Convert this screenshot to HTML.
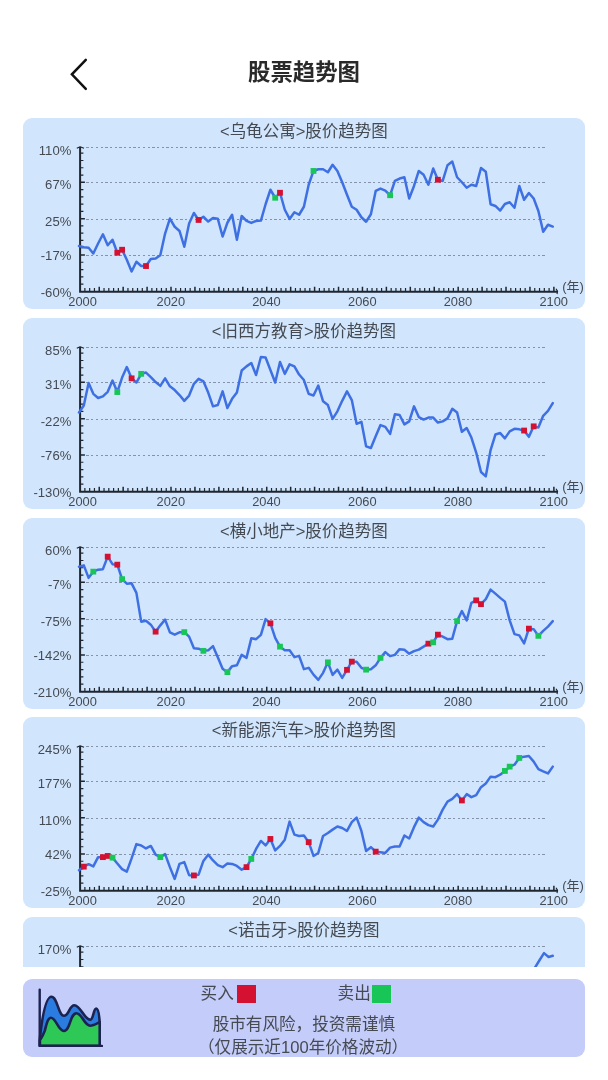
<!DOCTYPE html>
<html lang="zh-CN"><head><meta charset="utf-8"><title>股票趋势图</title>
<style>
html,body{margin:0;padding:0;background:#fff;}
body{width:608px;height:1080px;position:relative;overflow:hidden;font-family:"Liberation Sans","Noto Sans CJK SC",sans-serif;}
.back{position:absolute;left:60px;top:50px;width:40px;height:48px;}
.title{position:absolute;left:0;top:56.2px;width:608px;text-align:center;font-size:22.4px;font-weight:bold;color:#2a2a2a;line-height:34px;}
.scroll{position:absolute;left:0;top:110px;width:608px;height:857.3px;overflow:hidden;}
.card{position:absolute;left:22.6px;width:562.6px;height:191.1px;background:#d1e6fc;border-radius:9px;}
.card h2{margin:0;position:absolute;left:0;top:3px;width:562.6px;text-align:center;font-size:16.5px;font-weight:normal;color:#454a52;line-height:20px;}
.card svg{position:absolute;left:0;top:0;}
.card svg text{font-family:"Liberation Sans","Noto Sans CJK SC",sans-serif;font-size:12.85px;fill:#454a52;}
.card svg text.nian{font-size:13px;}
.card svg text.yl{font-size:13.1px;}
.panel{position:absolute;left:22.6px;top:978.7px;width:562.6px;height:78.1px;background:#c4ccf9;border-radius:9px;}
.panel svg{position:absolute;left:0;top:0;}
.lg{position:absolute;top:4px;font-size:16.6px;color:#454a52;line-height:22px;white-space:nowrap;}
.sq{position:absolute;top:6px;width:19px;height:18px;}
.tip{position:absolute;left:0;width:562.6px;text-align:center;font-size:16.6px;color:#454a52;line-height:22px;white-space:nowrap;}
</style></head><body>
<svg class="back" viewBox="0 0 40 48"><path d="M25.8 9.9 L11.9 24.3 L25.8 38.9" fill="none" stroke="#111" stroke-width="2.5" stroke-linecap="round" stroke-linejoin="miter"/></svg>
<div class="title">股票趋势图</div>
<div class="scroll">
<div class="card" style="top:8.2px"><h2>&lt;乌龟公寓&gt;股价趋势图</h2>
<svg width="562.6" height="191.1" viewBox="22.6 118.25 562.6 191.1">
<line x1="86" y1="147.5" x2="546.5" y2="147.5" stroke="#8593aa" stroke-width="1" stroke-dasharray="2.3 2.4" shape-rendering="crispEdges"/>
<line x1="86" y1="182.4" x2="546.5" y2="182.4" stroke="#8593aa" stroke-width="1" stroke-dasharray="2.3 2.4" shape-rendering="crispEdges"/>
<line x1="86" y1="219.9" x2="546.5" y2="219.9" stroke="#8593aa" stroke-width="1" stroke-dasharray="2.3 2.4" shape-rendering="crispEdges"/>
<line x1="86" y1="255.6" x2="546.5" y2="255.6" stroke="#8593aa" stroke-width="1" stroke-dasharray="2.3 2.4" shape-rendering="crispEdges"/>
<path d="M79.7 147.2 V292.0 H557.3" fill="none" stroke="#1f2630" stroke-width="2"/>
<path d="M76.4 148.6 L79.7 147.1 L83.6 148.6 M555.6 289.0 L557.2 291.6 L556.6 294.3" fill="none" stroke="#1f2630" stroke-width="1.1" stroke-linejoin="round"/>
<path d="M79.7 284.33 h3.3 M79.7 277.06 h3.3 M79.7 269.79 h3.3 M79.7 262.52 h3.3 M79.7 247.98 h3.3 M79.7 240.71 h3.3 M79.7 233.44 h3.3 M79.7 226.17 h3.3 M79.7 211.63 h3.3 M79.7 204.36 h3.3 M79.7 197.09 h3.3 M79.7 189.82 h3.3 M79.7 175.28 h3.3 M79.7 168.01 h3.3 M79.7 160.74 h3.3 M79.7 153.47 h3.3 M84.47 292.0 v-3.7 M89.26 292.0 v-3.7 M94.04 292.0 v-3.7 M103.62 292.0 v-3.7 M108.40 292.0 v-3.7 M113.19 292.0 v-3.7 M117.97 292.0 v-3.7 M127.55 292.0 v-3.7 M132.33 292.0 v-3.7 M137.12 292.0 v-3.7 M141.90 292.0 v-3.7 M151.48 292.0 v-3.7 M156.26 292.0 v-3.7 M161.05 292.0 v-3.7 M165.83 292.0 v-3.7 M175.41 292.0 v-3.7 M180.19 292.0 v-3.7 M184.98 292.0 v-3.7 M189.76 292.0 v-3.7 M199.34 292.0 v-3.7 M204.12 292.0 v-3.7 M208.91 292.0 v-3.7 M213.69 292.0 v-3.7 M223.27 292.0 v-3.7 M228.05 292.0 v-3.7 M232.84 292.0 v-3.7 M237.62 292.0 v-3.7 M247.20 292.0 v-3.7 M251.98 292.0 v-3.7 M256.77 292.0 v-3.7 M261.55 292.0 v-3.7 M271.13 292.0 v-3.7 M275.91 292.0 v-3.7 M280.70 292.0 v-3.7 M285.48 292.0 v-3.7 M295.06 292.0 v-3.7 M299.84 292.0 v-3.7 M304.63 292.0 v-3.7 M309.41 292.0 v-3.7 M318.99 292.0 v-3.7 M323.77 292.0 v-3.7 M328.56 292.0 v-3.7 M333.34 292.0 v-3.7 M342.92 292.0 v-3.7 M347.70 292.0 v-3.7 M352.49 292.0 v-3.7 M357.27 292.0 v-3.7 M366.85 292.0 v-3.7 M371.63 292.0 v-3.7 M376.42 292.0 v-3.7 M381.20 292.0 v-3.7 M390.78 292.0 v-3.7 M395.56 292.0 v-3.7 M400.35 292.0 v-3.7 M405.13 292.0 v-3.7 M414.71 292.0 v-3.7 M419.49 292.0 v-3.7 M424.28 292.0 v-3.7 M429.06 292.0 v-3.7 M438.64 292.0 v-3.7 M443.42 292.0 v-3.7 M448.21 292.0 v-3.7 M452.99 292.0 v-3.7 M462.57 292.0 v-3.7 M467.35 292.0 v-3.7 M472.14 292.0 v-3.7 M476.92 292.0 v-3.7 M486.50 292.0 v-3.7 M491.28 292.0 v-3.7 M496.07 292.0 v-3.7 M500.85 292.0 v-3.7 M510.43 292.0 v-3.7 M515.21 292.0 v-3.7 M520.00 292.0 v-3.7 M524.78 292.0 v-3.7 M534.36 292.0 v-3.7 M539.14 292.0 v-3.7 M543.93 292.0 v-3.7 M548.71 292.0 v-3.7" fill="none" stroke="#1f2630" stroke-width="1.2"/>
<path d="M79.7 255.25 h4.8 M79.7 218.90 h4.8 M79.7 182.55 h4.8 M98.83 292.0 v-5.0 M122.76 292.0 v-5.0 M146.69 292.0 v-5.0 M170.62 292.0 v-5.0 M194.55 292.0 v-5.0 M218.48 292.0 v-5.0 M242.41 292.0 v-5.0 M266.34 292.0 v-5.0 M290.27 292.0 v-5.0 M314.20 292.0 v-5.0 M338.13 292.0 v-5.0 M362.06 292.0 v-5.0 M385.99 292.0 v-5.0 M409.92 292.0 v-5.0 M433.85 292.0 v-5.0 M457.78 292.0 v-5.0 M481.71 292.0 v-5.0 M505.64 292.0 v-5.0 M529.57 292.0 v-5.0 M553.50 292.0 v-5.0" fill="none" stroke="#1f2630" stroke-width="1.5"/>
<text class="yl" x="70.9" y="155.0" text-anchor="end">110%</text>
<text class="yl" x="70.9" y="188.8" text-anchor="end">67%</text>
<text class="yl" x="70.9" y="225.9" text-anchor="end">25%</text>
<text class="yl" x="70.9" y="260.0" text-anchor="end">-17%</text>
<text class="yl" x="70.9" y="297.1" text-anchor="end">-60%</text>
<text x="82.2" y="305.9" text-anchor="middle">2000</text>
<text x="170.4" y="305.9" text-anchor="middle">2020</text>
<text x="266.1" y="305.9" text-anchor="middle">2040</text>
<text x="361.9" y="305.9" text-anchor="middle">2060</text>
<text x="457.6" y="305.9" text-anchor="middle">2080</text>
<text x="553.3" y="305.9" text-anchor="middle">2100</text>
<text x="572.7" y="291.3" text-anchor="middle" class="nian">(年)</text>
<polyline points="78.6,246.2 83.4,247.5 88.2,248.0 92.9,253.8 97.7,243.8 102.5,234.5 107.3,245.5 112.1,240.0 116.9,253.0 121.7,250.0 126.4,260.0 131.2,271.8 136.0,262.0 140.8,266.2 145.6,266.2 150.4,259.2 155.2,258.8 159.9,255.5 164.7,233.8 169.5,218.8 174.3,227.0 179.1,231.2 183.9,247.0 188.7,223.8 193.5,213.2 198.2,220.2 203.0,217.0 207.8,221.8 212.6,218.2 217.4,219.0 222.2,236.8 227.0,223.0 231.7,215.0 236.5,240.0 241.3,216.2 246.1,221.2 250.9,223.2 255.7,221.2 260.5,220.8 265.2,204.5 270.0,190.0 274.8,198.0 279.6,193.0 284.4,210.0 289.2,219.2 294.0,212.5 298.7,215.0 303.5,207.0 308.3,185.0 313.1,171.2 317.9,169.5 322.7,169.5 327.5,172.5 332.2,165.0 337.0,171.2 341.8,182.5 346.6,195.0 351.4,207.0 356.2,210.0 361.0,217.5 365.7,222.0 370.5,214.5 375.3,191.2 380.1,188.8 384.9,190.8 389.7,195.5 394.5,181.2 399.2,178.8 404.0,177.5 408.8,198.8 413.6,186.2 418.4,171.2 423.2,175.0 428.0,185.0 432.8,168.8 437.5,180.0 442.3,181.2 447.1,165.5 451.9,161.8 456.7,177.5 461.5,182.5 466.3,188.0 471.0,185.0 475.8,186.2 480.6,168.2 485.4,172.0 490.2,204.5 495.0,206.2 499.8,210.8 504.5,204.2 509.3,202.5 514.1,208.0 518.9,186.2 523.7,200.0 528.5,193.2 533.3,198.8 538.0,211.2 542.8,232.0 547.6,225.0 552.4,226.8" fill="none" stroke="#3f70e3" stroke-width="2.5" stroke-linejoin="round" stroke-linecap="round"/>
<rect x="114.0" y="250.1" width="5.8" height="5.8" fill="#d41131"/>
<rect x="118.8" y="247.1" width="5.8" height="5.8" fill="#d41131"/>
<rect x="142.7" y="263.4" width="5.8" height="5.8" fill="#d41131"/>
<rect x="195.3" y="217.3" width="5.8" height="5.8" fill="#d41131"/>
<rect x="271.9" y="195.1" width="5.8" height="5.8" fill="#18c658"/>
<rect x="276.7" y="190.1" width="5.8" height="5.8" fill="#d41131"/>
<rect x="310.2" y="168.3" width="5.8" height="5.8" fill="#18c658"/>
<rect x="386.8" y="192.6" width="5.8" height="5.8" fill="#18c658"/>
<rect x="434.6" y="177.1" width="5.8" height="5.8" fill="#d41131"/>
</svg>
</div>
<div class="card" style="top:207.9px"><h2>&lt;旧西方教育&gt;股价趋势图</h2>
<svg width="562.6" height="191.1" viewBox="22.6 118.25 562.6 191.1">
<line x1="86" y1="147.5" x2="546.5" y2="147.5" stroke="#8593aa" stroke-width="1" stroke-dasharray="2.3 2.4" shape-rendering="crispEdges"/>
<line x1="86" y1="182.4" x2="546.5" y2="182.4" stroke="#8593aa" stroke-width="1" stroke-dasharray="2.3 2.4" shape-rendering="crispEdges"/>
<line x1="86" y1="219.9" x2="546.5" y2="219.9" stroke="#8593aa" stroke-width="1" stroke-dasharray="2.3 2.4" shape-rendering="crispEdges"/>
<line x1="86" y1="255.6" x2="546.5" y2="255.6" stroke="#8593aa" stroke-width="1" stroke-dasharray="2.3 2.4" shape-rendering="crispEdges"/>
<path d="M79.7 147.2 V292.0 H557.3" fill="none" stroke="#1f2630" stroke-width="2"/>
<path d="M76.4 148.6 L79.7 147.1 L83.6 148.6 M555.6 289.0 L557.2 291.6 L556.6 294.3" fill="none" stroke="#1f2630" stroke-width="1.1" stroke-linejoin="round"/>
<path d="M79.7 284.33 h3.3 M79.7 277.06 h3.3 M79.7 269.79 h3.3 M79.7 262.52 h3.3 M79.7 247.98 h3.3 M79.7 240.71 h3.3 M79.7 233.44 h3.3 M79.7 226.17 h3.3 M79.7 211.63 h3.3 M79.7 204.36 h3.3 M79.7 197.09 h3.3 M79.7 189.82 h3.3 M79.7 175.28 h3.3 M79.7 168.01 h3.3 M79.7 160.74 h3.3 M79.7 153.47 h3.3 M84.47 292.0 v-3.7 M89.26 292.0 v-3.7 M94.04 292.0 v-3.7 M103.62 292.0 v-3.7 M108.40 292.0 v-3.7 M113.19 292.0 v-3.7 M117.97 292.0 v-3.7 M127.55 292.0 v-3.7 M132.33 292.0 v-3.7 M137.12 292.0 v-3.7 M141.90 292.0 v-3.7 M151.48 292.0 v-3.7 M156.26 292.0 v-3.7 M161.05 292.0 v-3.7 M165.83 292.0 v-3.7 M175.41 292.0 v-3.7 M180.19 292.0 v-3.7 M184.98 292.0 v-3.7 M189.76 292.0 v-3.7 M199.34 292.0 v-3.7 M204.12 292.0 v-3.7 M208.91 292.0 v-3.7 M213.69 292.0 v-3.7 M223.27 292.0 v-3.7 M228.05 292.0 v-3.7 M232.84 292.0 v-3.7 M237.62 292.0 v-3.7 M247.20 292.0 v-3.7 M251.98 292.0 v-3.7 M256.77 292.0 v-3.7 M261.55 292.0 v-3.7 M271.13 292.0 v-3.7 M275.91 292.0 v-3.7 M280.70 292.0 v-3.7 M285.48 292.0 v-3.7 M295.06 292.0 v-3.7 M299.84 292.0 v-3.7 M304.63 292.0 v-3.7 M309.41 292.0 v-3.7 M318.99 292.0 v-3.7 M323.77 292.0 v-3.7 M328.56 292.0 v-3.7 M333.34 292.0 v-3.7 M342.92 292.0 v-3.7 M347.70 292.0 v-3.7 M352.49 292.0 v-3.7 M357.27 292.0 v-3.7 M366.85 292.0 v-3.7 M371.63 292.0 v-3.7 M376.42 292.0 v-3.7 M381.20 292.0 v-3.7 M390.78 292.0 v-3.7 M395.56 292.0 v-3.7 M400.35 292.0 v-3.7 M405.13 292.0 v-3.7 M414.71 292.0 v-3.7 M419.49 292.0 v-3.7 M424.28 292.0 v-3.7 M429.06 292.0 v-3.7 M438.64 292.0 v-3.7 M443.42 292.0 v-3.7 M448.21 292.0 v-3.7 M452.99 292.0 v-3.7 M462.57 292.0 v-3.7 M467.35 292.0 v-3.7 M472.14 292.0 v-3.7 M476.92 292.0 v-3.7 M486.50 292.0 v-3.7 M491.28 292.0 v-3.7 M496.07 292.0 v-3.7 M500.85 292.0 v-3.7 M510.43 292.0 v-3.7 M515.21 292.0 v-3.7 M520.00 292.0 v-3.7 M524.78 292.0 v-3.7 M534.36 292.0 v-3.7 M539.14 292.0 v-3.7 M543.93 292.0 v-3.7 M548.71 292.0 v-3.7" fill="none" stroke="#1f2630" stroke-width="1.2"/>
<path d="M79.7 255.25 h4.8 M79.7 218.90 h4.8 M79.7 182.55 h4.8 M98.83 292.0 v-5.0 M122.76 292.0 v-5.0 M146.69 292.0 v-5.0 M170.62 292.0 v-5.0 M194.55 292.0 v-5.0 M218.48 292.0 v-5.0 M242.41 292.0 v-5.0 M266.34 292.0 v-5.0 M290.27 292.0 v-5.0 M314.20 292.0 v-5.0 M338.13 292.0 v-5.0 M362.06 292.0 v-5.0 M385.99 292.0 v-5.0 M409.92 292.0 v-5.0 M433.85 292.0 v-5.0 M457.78 292.0 v-5.0 M481.71 292.0 v-5.0 M505.64 292.0 v-5.0 M529.57 292.0 v-5.0 M553.50 292.0 v-5.0" fill="none" stroke="#1f2630" stroke-width="1.5"/>
<text class="yl" x="70.9" y="155.0" text-anchor="end">85%</text>
<text class="yl" x="70.9" y="188.8" text-anchor="end">31%</text>
<text class="yl" x="70.9" y="225.9" text-anchor="end">-22%</text>
<text class="yl" x="70.9" y="260.0" text-anchor="end">-76%</text>
<text class="yl" x="70.9" y="297.1" text-anchor="end">-130%</text>
<text x="82.2" y="305.9" text-anchor="middle">2000</text>
<text x="170.4" y="305.9" text-anchor="middle">2020</text>
<text x="266.1" y="305.9" text-anchor="middle">2040</text>
<text x="361.9" y="305.9" text-anchor="middle">2060</text>
<text x="457.6" y="305.9" text-anchor="middle">2080</text>
<text x="553.3" y="305.9" text-anchor="middle">2100</text>
<text x="572.7" y="291.3" text-anchor="middle" class="nian">(年)</text>
<polyline points="78.6,212.8 83.4,205.8 88.2,183.3 92.9,194.1 97.7,198.3 102.5,196.6 107.3,192.1 112.1,180.8 116.9,192.3 121.7,177.8 126.4,167.3 131.2,178.6 136.0,182.8 140.8,174.1 145.6,172.8 150.4,177.3 155.2,182.3 159.9,186.1 164.7,178.6 169.5,186.6 174.3,190.3 179.1,195.3 183.9,201.1 188.7,195.8 193.5,184.1 198.2,179.1 203.0,181.6 207.8,192.8 212.6,206.6 217.4,205.3 222.2,191.6 227.0,208.3 231.7,199.1 236.5,192.8 241.3,170.8 246.1,166.6 250.9,163.3 255.7,175.3 260.5,157.3 265.2,157.8 270.0,170.3 274.8,182.8 279.6,162.3 284.4,174.1 289.2,164.6 294.0,166.6 298.7,174.8 303.5,180.3 308.3,194.1 313.1,195.8 317.9,185.8 322.7,201.6 327.5,205.3 332.2,219.1 337.0,211.6 341.8,201.1 346.6,191.6 351.4,200.3 356.2,224.1 361.0,222.1 365.7,246.6 370.5,248.3 375.3,236.6 380.1,225.3 384.9,227.1 389.7,234.1 394.5,214.6 399.2,215.3 404.0,224.6 408.8,221.6 413.6,206.6 418.4,217.3 423.2,219.8 428.0,217.8 432.8,217.8 437.5,222.8 442.3,221.6 447.1,218.6 451.9,209.1 456.7,212.8 461.5,232.1 466.3,228.3 471.0,237.8 475.8,252.8 480.6,272.3 485.4,276.6 490.2,250.3 495.0,234.8 499.8,233.3 504.5,238.6 509.3,231.6 514.1,229.1 518.9,229.6 523.7,230.8 528.5,237.1 533.3,226.6 538.0,227.8 542.8,216.1 547.6,211.1 552.4,203.3" fill="none" stroke="#3f70e3" stroke-width="2.5" stroke-linejoin="round" stroke-linecap="round"/>
<rect x="114.0" y="189.4" width="5.8" height="5.8" fill="#18c658"/>
<rect x="128.3" y="175.7" width="5.8" height="5.8" fill="#d41131"/>
<rect x="137.9" y="171.2" width="5.8" height="5.8" fill="#18c658"/>
<rect x="520.8" y="227.9" width="5.8" height="5.8" fill="#d41131"/>
<rect x="530.4" y="223.7" width="5.8" height="5.8" fill="#d41131"/>
</svg>
</div>
<div class="card" style="top:407.6px"><h2>&lt;横小地产&gt;股价趋势图</h2>
<svg width="562.6" height="191.1" viewBox="22.6 118.25 562.6 191.1">
<line x1="86" y1="147.5" x2="546.5" y2="147.5" stroke="#8593aa" stroke-width="1" stroke-dasharray="2.3 2.4" shape-rendering="crispEdges"/>
<line x1="86" y1="182.4" x2="546.5" y2="182.4" stroke="#8593aa" stroke-width="1" stroke-dasharray="2.3 2.4" shape-rendering="crispEdges"/>
<line x1="86" y1="219.9" x2="546.5" y2="219.9" stroke="#8593aa" stroke-width="1" stroke-dasharray="2.3 2.4" shape-rendering="crispEdges"/>
<line x1="86" y1="255.6" x2="546.5" y2="255.6" stroke="#8593aa" stroke-width="1" stroke-dasharray="2.3 2.4" shape-rendering="crispEdges"/>
<path d="M79.7 147.2 V292.0 H557.3" fill="none" stroke="#1f2630" stroke-width="2"/>
<path d="M76.4 148.6 L79.7 147.1 L83.6 148.6 M555.6 289.0 L557.2 291.6 L556.6 294.3" fill="none" stroke="#1f2630" stroke-width="1.1" stroke-linejoin="round"/>
<path d="M79.7 284.33 h3.3 M79.7 277.06 h3.3 M79.7 269.79 h3.3 M79.7 262.52 h3.3 M79.7 247.98 h3.3 M79.7 240.71 h3.3 M79.7 233.44 h3.3 M79.7 226.17 h3.3 M79.7 211.63 h3.3 M79.7 204.36 h3.3 M79.7 197.09 h3.3 M79.7 189.82 h3.3 M79.7 175.28 h3.3 M79.7 168.01 h3.3 M79.7 160.74 h3.3 M79.7 153.47 h3.3 M84.47 292.0 v-3.7 M89.26 292.0 v-3.7 M94.04 292.0 v-3.7 M103.62 292.0 v-3.7 M108.40 292.0 v-3.7 M113.19 292.0 v-3.7 M117.97 292.0 v-3.7 M127.55 292.0 v-3.7 M132.33 292.0 v-3.7 M137.12 292.0 v-3.7 M141.90 292.0 v-3.7 M151.48 292.0 v-3.7 M156.26 292.0 v-3.7 M161.05 292.0 v-3.7 M165.83 292.0 v-3.7 M175.41 292.0 v-3.7 M180.19 292.0 v-3.7 M184.98 292.0 v-3.7 M189.76 292.0 v-3.7 M199.34 292.0 v-3.7 M204.12 292.0 v-3.7 M208.91 292.0 v-3.7 M213.69 292.0 v-3.7 M223.27 292.0 v-3.7 M228.05 292.0 v-3.7 M232.84 292.0 v-3.7 M237.62 292.0 v-3.7 M247.20 292.0 v-3.7 M251.98 292.0 v-3.7 M256.77 292.0 v-3.7 M261.55 292.0 v-3.7 M271.13 292.0 v-3.7 M275.91 292.0 v-3.7 M280.70 292.0 v-3.7 M285.48 292.0 v-3.7 M295.06 292.0 v-3.7 M299.84 292.0 v-3.7 M304.63 292.0 v-3.7 M309.41 292.0 v-3.7 M318.99 292.0 v-3.7 M323.77 292.0 v-3.7 M328.56 292.0 v-3.7 M333.34 292.0 v-3.7 M342.92 292.0 v-3.7 M347.70 292.0 v-3.7 M352.49 292.0 v-3.7 M357.27 292.0 v-3.7 M366.85 292.0 v-3.7 M371.63 292.0 v-3.7 M376.42 292.0 v-3.7 M381.20 292.0 v-3.7 M390.78 292.0 v-3.7 M395.56 292.0 v-3.7 M400.35 292.0 v-3.7 M405.13 292.0 v-3.7 M414.71 292.0 v-3.7 M419.49 292.0 v-3.7 M424.28 292.0 v-3.7 M429.06 292.0 v-3.7 M438.64 292.0 v-3.7 M443.42 292.0 v-3.7 M448.21 292.0 v-3.7 M452.99 292.0 v-3.7 M462.57 292.0 v-3.7 M467.35 292.0 v-3.7 M472.14 292.0 v-3.7 M476.92 292.0 v-3.7 M486.50 292.0 v-3.7 M491.28 292.0 v-3.7 M496.07 292.0 v-3.7 M500.85 292.0 v-3.7 M510.43 292.0 v-3.7 M515.21 292.0 v-3.7 M520.00 292.0 v-3.7 M524.78 292.0 v-3.7 M534.36 292.0 v-3.7 M539.14 292.0 v-3.7 M543.93 292.0 v-3.7 M548.71 292.0 v-3.7" fill="none" stroke="#1f2630" stroke-width="1.2"/>
<path d="M79.7 255.25 h4.8 M79.7 218.90 h4.8 M79.7 182.55 h4.8 M98.83 292.0 v-5.0 M122.76 292.0 v-5.0 M146.69 292.0 v-5.0 M170.62 292.0 v-5.0 M194.55 292.0 v-5.0 M218.48 292.0 v-5.0 M242.41 292.0 v-5.0 M266.34 292.0 v-5.0 M290.27 292.0 v-5.0 M314.20 292.0 v-5.0 M338.13 292.0 v-5.0 M362.06 292.0 v-5.0 M385.99 292.0 v-5.0 M409.92 292.0 v-5.0 M433.85 292.0 v-5.0 M457.78 292.0 v-5.0 M481.71 292.0 v-5.0 M505.64 292.0 v-5.0 M529.57 292.0 v-5.0 M553.50 292.0 v-5.0" fill="none" stroke="#1f2630" stroke-width="1.5"/>
<text class="yl" x="70.9" y="155.0" text-anchor="end">60%</text>
<text class="yl" x="70.9" y="188.8" text-anchor="end">-7%</text>
<text class="yl" x="70.9" y="225.9" text-anchor="end">-75%</text>
<text class="yl" x="70.9" y="260.0" text-anchor="end">-142%</text>
<text class="yl" x="70.9" y="297.1" text-anchor="end">-210%</text>
<text x="82.2" y="305.9" text-anchor="middle">2000</text>
<text x="170.4" y="305.9" text-anchor="middle">2020</text>
<text x="266.1" y="305.9" text-anchor="middle">2040</text>
<text x="361.9" y="305.9" text-anchor="middle">2060</text>
<text x="457.6" y="305.9" text-anchor="middle">2080</text>
<text x="553.3" y="305.9" text-anchor="middle">2100</text>
<text x="572.7" y="291.3" text-anchor="middle" class="nian">(年)</text>
<polyline points="78.6,166.9 83.4,165.6 88.2,178.1 92.9,171.9 97.7,169.9 102.5,169.4 107.3,156.9 112.1,164.4 116.9,164.9 121.7,179.4 126.4,183.9 131.2,183.6 136.0,193.1 140.8,221.9 145.6,221.1 150.4,224.9 155.2,231.9 159.9,225.6 164.7,219.9 169.5,232.6 174.3,234.9 179.1,232.6 183.9,232.4 188.7,236.9 193.5,248.6 198.2,248.9 203.0,251.1 207.8,250.6 212.6,246.4 217.4,257.6 222.2,268.9 227.0,272.4 231.7,266.4 236.5,265.6 241.3,255.1 246.1,258.1 250.9,238.6 255.7,239.4 260.5,235.1 265.2,219.4 270.0,223.6 274.8,238.1 279.6,246.9 284.4,250.6 289.2,250.6 294.0,257.4 298.7,256.1 303.5,269.4 308.3,268.1 313.1,274.9 317.9,280.1 322.7,273.1 327.5,262.6 332.2,275.1 337.0,269.9 341.8,278.1 346.6,270.1 351.4,261.9 356.2,261.9 361.0,268.1 365.7,269.9 370.5,269.4 375.3,265.6 380.1,258.1 384.9,252.4 389.7,256.4 394.5,255.1 399.2,249.4 404.0,250.1 408.8,253.9 413.6,251.4 418.4,249.9 423.2,246.9 428.0,243.9 432.8,242.6 437.5,234.9 442.3,236.9 447.1,239.4 451.9,238.9 456.7,221.4 461.5,211.4 466.3,220.6 471.0,203.1 475.8,200.6 480.6,204.4 485.4,199.4 490.2,189.9 495.0,193.9 499.8,198.1 504.5,201.9 509.3,220.6 514.1,234.4 518.9,235.6 523.7,243.6 528.5,228.9 533.3,229.4 538.0,236.1 542.8,231.1 547.6,226.9 552.4,221.4" fill="none" stroke="#3f70e3" stroke-width="2.5" stroke-linejoin="round" stroke-linecap="round"/>
<rect x="90.0" y="169.0" width="5.8" height="5.8" fill="#18c658"/>
<rect x="104.4" y="154.0" width="5.8" height="5.8" fill="#d41131"/>
<rect x="114.0" y="162.0" width="5.8" height="5.8" fill="#d41131"/>
<rect x="118.8" y="176.5" width="5.8" height="5.8" fill="#18c658"/>
<rect x="152.3" y="229.0" width="5.8" height="5.8" fill="#d41131"/>
<rect x="181.0" y="229.5" width="5.8" height="5.8" fill="#18c658"/>
<rect x="200.1" y="248.2" width="5.8" height="5.8" fill="#18c658"/>
<rect x="224.1" y="269.5" width="5.8" height="5.8" fill="#18c658"/>
<rect x="267.1" y="220.7" width="5.8" height="5.8" fill="#d41131"/>
<rect x="276.7" y="244.0" width="5.8" height="5.8" fill="#18c658"/>
<rect x="324.6" y="259.7" width="5.8" height="5.8" fill="#18c658"/>
<rect x="343.7" y="267.2" width="5.8" height="5.8" fill="#d41131"/>
<rect x="348.5" y="259.0" width="5.8" height="5.8" fill="#d41131"/>
<rect x="362.8" y="267.0" width="5.8" height="5.8" fill="#18c658"/>
<rect x="377.2" y="255.2" width="5.8" height="5.8" fill="#18c658"/>
<rect x="425.1" y="241.0" width="5.8" height="5.8" fill="#d41131"/>
<rect x="429.9" y="239.7" width="5.8" height="5.8" fill="#18c658"/>
<rect x="434.6" y="232.0" width="5.8" height="5.8" fill="#d41131"/>
<rect x="453.8" y="218.5" width="5.8" height="5.8" fill="#18c658"/>
<rect x="472.9" y="197.7" width="5.8" height="5.8" fill="#d41131"/>
<rect x="477.7" y="201.5" width="5.8" height="5.8" fill="#d41131"/>
<rect x="525.6" y="226.0" width="5.8" height="5.8" fill="#d41131"/>
<rect x="535.1" y="233.2" width="5.8" height="5.8" fill="#18c658"/>
</svg>
</div>
<div class="card" style="top:607.3px"><h2>&lt;新能源汽车&gt;股价趋势图</h2>
<svg width="562.6" height="191.1" viewBox="22.6 118.25 562.6 191.1">
<line x1="86" y1="147.5" x2="546.5" y2="147.5" stroke="#8593aa" stroke-width="1" stroke-dasharray="2.3 2.4" shape-rendering="crispEdges"/>
<line x1="86" y1="182.4" x2="546.5" y2="182.4" stroke="#8593aa" stroke-width="1" stroke-dasharray="2.3 2.4" shape-rendering="crispEdges"/>
<line x1="86" y1="219.9" x2="546.5" y2="219.9" stroke="#8593aa" stroke-width="1" stroke-dasharray="2.3 2.4" shape-rendering="crispEdges"/>
<line x1="86" y1="255.6" x2="546.5" y2="255.6" stroke="#8593aa" stroke-width="1" stroke-dasharray="2.3 2.4" shape-rendering="crispEdges"/>
<path d="M79.7 147.2 V292.0 H557.3" fill="none" stroke="#1f2630" stroke-width="2"/>
<path d="M76.4 148.6 L79.7 147.1 L83.6 148.6 M555.6 289.0 L557.2 291.6 L556.6 294.3" fill="none" stroke="#1f2630" stroke-width="1.1" stroke-linejoin="round"/>
<path d="M79.7 284.33 h3.3 M79.7 277.06 h3.3 M79.7 269.79 h3.3 M79.7 262.52 h3.3 M79.7 247.98 h3.3 M79.7 240.71 h3.3 M79.7 233.44 h3.3 M79.7 226.17 h3.3 M79.7 211.63 h3.3 M79.7 204.36 h3.3 M79.7 197.09 h3.3 M79.7 189.82 h3.3 M79.7 175.28 h3.3 M79.7 168.01 h3.3 M79.7 160.74 h3.3 M79.7 153.47 h3.3 M84.47 292.0 v-3.7 M89.26 292.0 v-3.7 M94.04 292.0 v-3.7 M103.62 292.0 v-3.7 M108.40 292.0 v-3.7 M113.19 292.0 v-3.7 M117.97 292.0 v-3.7 M127.55 292.0 v-3.7 M132.33 292.0 v-3.7 M137.12 292.0 v-3.7 M141.90 292.0 v-3.7 M151.48 292.0 v-3.7 M156.26 292.0 v-3.7 M161.05 292.0 v-3.7 M165.83 292.0 v-3.7 M175.41 292.0 v-3.7 M180.19 292.0 v-3.7 M184.98 292.0 v-3.7 M189.76 292.0 v-3.7 M199.34 292.0 v-3.7 M204.12 292.0 v-3.7 M208.91 292.0 v-3.7 M213.69 292.0 v-3.7 M223.27 292.0 v-3.7 M228.05 292.0 v-3.7 M232.84 292.0 v-3.7 M237.62 292.0 v-3.7 M247.20 292.0 v-3.7 M251.98 292.0 v-3.7 M256.77 292.0 v-3.7 M261.55 292.0 v-3.7 M271.13 292.0 v-3.7 M275.91 292.0 v-3.7 M280.70 292.0 v-3.7 M285.48 292.0 v-3.7 M295.06 292.0 v-3.7 M299.84 292.0 v-3.7 M304.63 292.0 v-3.7 M309.41 292.0 v-3.7 M318.99 292.0 v-3.7 M323.77 292.0 v-3.7 M328.56 292.0 v-3.7 M333.34 292.0 v-3.7 M342.92 292.0 v-3.7 M347.70 292.0 v-3.7 M352.49 292.0 v-3.7 M357.27 292.0 v-3.7 M366.85 292.0 v-3.7 M371.63 292.0 v-3.7 M376.42 292.0 v-3.7 M381.20 292.0 v-3.7 M390.78 292.0 v-3.7 M395.56 292.0 v-3.7 M400.35 292.0 v-3.7 M405.13 292.0 v-3.7 M414.71 292.0 v-3.7 M419.49 292.0 v-3.7 M424.28 292.0 v-3.7 M429.06 292.0 v-3.7 M438.64 292.0 v-3.7 M443.42 292.0 v-3.7 M448.21 292.0 v-3.7 M452.99 292.0 v-3.7 M462.57 292.0 v-3.7 M467.35 292.0 v-3.7 M472.14 292.0 v-3.7 M476.92 292.0 v-3.7 M486.50 292.0 v-3.7 M491.28 292.0 v-3.7 M496.07 292.0 v-3.7 M500.85 292.0 v-3.7 M510.43 292.0 v-3.7 M515.21 292.0 v-3.7 M520.00 292.0 v-3.7 M524.78 292.0 v-3.7 M534.36 292.0 v-3.7 M539.14 292.0 v-3.7 M543.93 292.0 v-3.7 M548.71 292.0 v-3.7" fill="none" stroke="#1f2630" stroke-width="1.2"/>
<path d="M79.7 255.25 h4.8 M79.7 218.90 h4.8 M79.7 182.55 h4.8 M98.83 292.0 v-5.0 M122.76 292.0 v-5.0 M146.69 292.0 v-5.0 M170.62 292.0 v-5.0 M194.55 292.0 v-5.0 M218.48 292.0 v-5.0 M242.41 292.0 v-5.0 M266.34 292.0 v-5.0 M290.27 292.0 v-5.0 M314.20 292.0 v-5.0 M338.13 292.0 v-5.0 M362.06 292.0 v-5.0 M385.99 292.0 v-5.0 M409.92 292.0 v-5.0 M433.85 292.0 v-5.0 M457.78 292.0 v-5.0 M481.71 292.0 v-5.0 M505.64 292.0 v-5.0 M529.57 292.0 v-5.0 M553.50 292.0 v-5.0" fill="none" stroke="#1f2630" stroke-width="1.5"/>
<text class="yl" x="70.9" y="155.0" text-anchor="end">245%</text>
<text class="yl" x="70.9" y="188.8" text-anchor="end">177%</text>
<text class="yl" x="70.9" y="225.9" text-anchor="end">110%</text>
<text class="yl" x="70.9" y="260.0" text-anchor="end">42%</text>
<text class="yl" x="70.9" y="297.1" text-anchor="end">-25%</text>
<text x="82.2" y="305.9" text-anchor="middle">2000</text>
<text x="170.4" y="305.9" text-anchor="middle">2020</text>
<text x="266.1" y="305.9" text-anchor="middle">2040</text>
<text x="361.9" y="305.9" text-anchor="middle">2060</text>
<text x="457.6" y="305.9" text-anchor="middle">2080</text>
<text x="553.3" y="305.9" text-anchor="middle">2100</text>
<text x="572.7" y="291.3" text-anchor="middle" class="nian">(年)</text>
<polyline points="78.6,271.4 83.4,267.9 88.2,265.4 92.9,267.7 97.7,258.4 102.5,258.4 107.3,257.2 112.1,258.9 116.9,264.7 121.7,270.4 126.4,272.9 131.2,259.7 136.0,245.4 140.8,246.7 145.6,249.7 150.4,247.2 155.2,255.9 159.9,258.4 164.7,255.4 169.5,268.4 174.3,280.2 179.1,265.2 183.9,263.4 188.7,276.4 193.5,276.7 198.2,275.9 203.0,262.2 207.8,255.9 212.6,261.7 217.4,266.4 222.2,268.4 227.0,264.7 231.7,265.2 236.5,267.2 241.3,270.9 246.1,268.4 250.9,260.2 255.7,250.2 260.5,242.2 265.2,246.7 270.0,240.2 274.8,251.7 279.6,247.2 284.4,240.9 289.2,222.9 294.0,235.9 298.7,237.2 303.5,236.7 308.3,243.4 313.1,257.2 317.9,254.2 322.7,237.2 327.5,234.2 332.2,230.9 337.0,227.7 341.8,229.2 346.6,232.2 351.4,223.4 356.2,218.9 361.0,232.2 365.7,252.2 370.5,248.4 375.3,252.9 380.1,253.4 384.9,254.2 389.7,248.9 394.5,247.7 399.2,247.7 404.0,236.7 408.8,239.7 413.6,228.4 418.4,218.9 423.2,223.4 428.0,226.4 432.8,227.7 437.5,220.9 442.3,210.9 447.1,202.9 451.9,200.2 456.7,195.4 461.5,201.7 466.3,195.4 471.0,198.4 475.8,196.4 480.6,188.4 485.4,184.7 490.2,177.9 495.0,178.4 499.8,175.9 504.5,172.2 509.3,167.9 514.1,165.9 518.9,159.2 523.7,157.9 528.5,157.2 533.3,162.9 538.0,170.4 542.8,172.7 547.6,174.7 552.4,167.9" fill="none" stroke="#3f70e3" stroke-width="2.5" stroke-linejoin="round" stroke-linecap="round"/>
<rect x="80.5" y="265.0" width="5.8" height="5.8" fill="#d41131"/>
<rect x="99.6" y="255.5" width="5.8" height="5.8" fill="#d41131"/>
<rect x="104.4" y="254.3" width="5.8" height="5.8" fill="#d41131"/>
<rect x="109.2" y="256.0" width="5.8" height="5.8" fill="#18c658"/>
<rect x="157.0" y="255.5" width="5.8" height="5.8" fill="#18c658"/>
<rect x="190.6" y="273.8" width="5.8" height="5.8" fill="#d41131"/>
<rect x="243.2" y="265.5" width="5.8" height="5.8" fill="#d41131"/>
<rect x="248.0" y="257.3" width="5.8" height="5.8" fill="#18c658"/>
<rect x="267.1" y="237.3" width="5.8" height="5.8" fill="#d41131"/>
<rect x="305.4" y="240.5" width="5.8" height="5.8" fill="#d41131"/>
<rect x="372.4" y="250.0" width="5.8" height="5.8" fill="#d41131"/>
<rect x="458.6" y="198.8" width="5.8" height="5.8" fill="#d41131"/>
<rect x="501.6" y="169.3" width="5.8" height="5.8" fill="#18c658"/>
<rect x="506.4" y="165.0" width="5.8" height="5.8" fill="#18c658"/>
<rect x="516.0" y="156.3" width="5.8" height="5.8" fill="#18c658"/>
</svg>
</div>
<div class="card" style="top:807.0px"><h2>&lt;诺击牙&gt;股价趋势图</h2>
<svg width="562.6" height="191.1" viewBox="22.6 118.25 562.6 191.1">
<line x1="86" y1="147.5" x2="546.5" y2="147.5" stroke="#8593aa" stroke-width="1" stroke-dasharray="2.3 2.4" shape-rendering="crispEdges"/>
<path d="M79.7 147.2 V292.0 H557.3" fill="none" stroke="#1f2630" stroke-width="2"/>
<path d="M76.4 148.6 L79.7 147.1 L83.6 148.6 M555.6 289.0 L557.2 291.6 L556.6 294.3" fill="none" stroke="#1f2630" stroke-width="1.1" stroke-linejoin="round"/>
<path d="M79.7 284.33 h3.3 M79.7 277.06 h3.3 M79.7 269.79 h3.3 M79.7 262.52 h3.3 M79.7 247.98 h3.3 M79.7 240.71 h3.3 M79.7 233.44 h3.3 M79.7 226.17 h3.3 M79.7 211.63 h3.3 M79.7 204.36 h3.3 M79.7 197.09 h3.3 M79.7 189.82 h3.3 M79.7 175.28 h3.3 M79.7 168.01 h3.3 M79.7 160.74 h3.3 M79.7 153.47 h3.3 M84.47 292.0 v-3.7 M89.26 292.0 v-3.7 M94.04 292.0 v-3.7 M103.62 292.0 v-3.7 M108.40 292.0 v-3.7 M113.19 292.0 v-3.7 M117.97 292.0 v-3.7 M127.55 292.0 v-3.7 M132.33 292.0 v-3.7 M137.12 292.0 v-3.7 M141.90 292.0 v-3.7 M151.48 292.0 v-3.7 M156.26 292.0 v-3.7 M161.05 292.0 v-3.7 M165.83 292.0 v-3.7 M175.41 292.0 v-3.7 M180.19 292.0 v-3.7 M184.98 292.0 v-3.7 M189.76 292.0 v-3.7 M199.34 292.0 v-3.7 M204.12 292.0 v-3.7 M208.91 292.0 v-3.7 M213.69 292.0 v-3.7 M223.27 292.0 v-3.7 M228.05 292.0 v-3.7 M232.84 292.0 v-3.7 M237.62 292.0 v-3.7 M247.20 292.0 v-3.7 M251.98 292.0 v-3.7 M256.77 292.0 v-3.7 M261.55 292.0 v-3.7 M271.13 292.0 v-3.7 M275.91 292.0 v-3.7 M280.70 292.0 v-3.7 M285.48 292.0 v-3.7 M295.06 292.0 v-3.7 M299.84 292.0 v-3.7 M304.63 292.0 v-3.7 M309.41 292.0 v-3.7 M318.99 292.0 v-3.7 M323.77 292.0 v-3.7 M328.56 292.0 v-3.7 M333.34 292.0 v-3.7 M342.92 292.0 v-3.7 M347.70 292.0 v-3.7 M352.49 292.0 v-3.7 M357.27 292.0 v-3.7 M366.85 292.0 v-3.7 M371.63 292.0 v-3.7 M376.42 292.0 v-3.7 M381.20 292.0 v-3.7 M390.78 292.0 v-3.7 M395.56 292.0 v-3.7 M400.35 292.0 v-3.7 M405.13 292.0 v-3.7 M414.71 292.0 v-3.7 M419.49 292.0 v-3.7 M424.28 292.0 v-3.7 M429.06 292.0 v-3.7 M438.64 292.0 v-3.7 M443.42 292.0 v-3.7 M448.21 292.0 v-3.7 M452.99 292.0 v-3.7 M462.57 292.0 v-3.7 M467.35 292.0 v-3.7 M472.14 292.0 v-3.7 M476.92 292.0 v-3.7 M486.50 292.0 v-3.7 M491.28 292.0 v-3.7 M496.07 292.0 v-3.7 M500.85 292.0 v-3.7 M510.43 292.0 v-3.7 M515.21 292.0 v-3.7 M520.00 292.0 v-3.7 M524.78 292.0 v-3.7 M534.36 292.0 v-3.7 M539.14 292.0 v-3.7 M543.93 292.0 v-3.7 M548.71 292.0 v-3.7" fill="none" stroke="#1f2630" stroke-width="1.2"/>
<path d="M79.7 255.25 h4.8 M79.7 218.90 h4.8 M79.7 182.55 h4.8 M98.83 292.0 v-5.0 M122.76 292.0 v-5.0 M146.69 292.0 v-5.0 M170.62 292.0 v-5.0 M194.55 292.0 v-5.0 M218.48 292.0 v-5.0 M242.41 292.0 v-5.0 M266.34 292.0 v-5.0 M290.27 292.0 v-5.0 M314.20 292.0 v-5.0 M338.13 292.0 v-5.0 M362.06 292.0 v-5.0 M385.99 292.0 v-5.0 M409.92 292.0 v-5.0 M433.85 292.0 v-5.0 M457.78 292.0 v-5.0 M481.71 292.0 v-5.0 M505.64 292.0 v-5.0 M529.57 292.0 v-5.0 M553.50 292.0 v-5.0" fill="none" stroke="#1f2630" stroke-width="1.5"/>
<text class="yl" x="70.9" y="155.0" text-anchor="end">170%</text>
<polyline points="529.6,176.2 534.4,169.2 539.1,161.5 543.6,154.4 548.2,158.2 552.4,157.0" fill="none" stroke="#3f70e3" stroke-width="2.5" stroke-linejoin="round" stroke-linecap="round"/>
</svg>
</div>
</div>
<div class="panel">
<svg width="120" height="78.1" viewBox="22.6 978.7 120 78.1">
<path d="M39.5 1045.5 L39.5 1038 C41 1024 44.5 996.4 51 996.4 C57 996.4 58 1015.5 63.5 1015.5 C68.5 1015.5 69 1005 74 1005 C80 1005 84 1019.5 89.9 1019.5 C93 1019.5 93 1008.3 95.8 1008.3 C98 1008.3 99 1016 99.3 1023.4 L99.3 1045.5 Z" fill="#2b7ce0" stroke="#1c2350" stroke-width="2.6" stroke-linejoin="round"/>
<path d="M39.5 1045.5 L39.5 1040 C42 1036 43.5 1033 44.5 1030 C46 1024 47.5 1017.5 50.4 1017.5 C56 1017.5 57.5 1030.7 63.5 1030.7 C70 1030.7 69.5 1012.9 76 1012.9 C82 1012.9 83.5 1025.4 89.9 1025.4 C93 1025.4 96 1023.5 99.3 1021.8 L99.3 1045.5 Z" fill="#2dc855" stroke="#1c2350" stroke-width="2.6" stroke-linejoin="round"/>
<path d="M39.3 989.3 V1045.6 H101.5" fill="none" stroke="#1c2350" stroke-width="2.4" stroke-linecap="round" stroke-linejoin="round"/>
</svg>
<span class="lg" style="left:178px">买入</span><span class="sq" style="left:214px;background:#d41131"></span>
<span class="lg" style="left:315px">卖出</span><span class="sq" style="left:349.5px;background:#18c658"></span>
<div class="tip" style="top:35.4px">股市有风险，投资需谨慎</div>
<div class="tip" style="top:58.2px;left:-0.8px">（仅展示近100年价格波动）</div>
</div>
</body></html>
